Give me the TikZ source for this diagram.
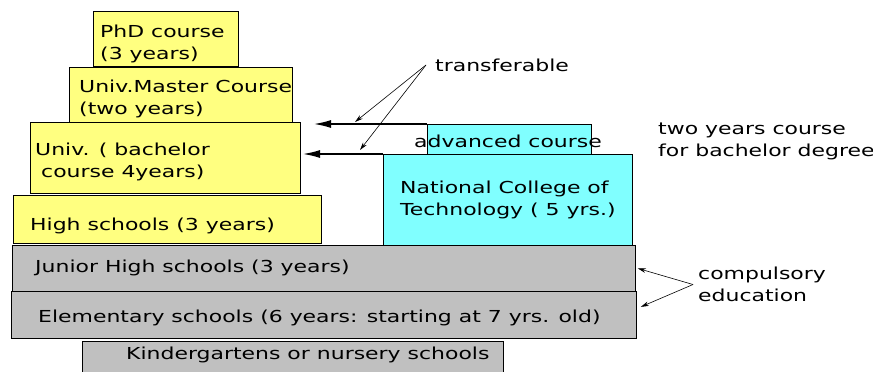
\documentclass[tikz,border=0pt]{standalone}
\usepackage{fontspec}
\setmainfont{DejaVu Sans}[FakeStretch=1.33]
\usetikzlibrary{arrows.meta}

% fill colours of the school levels
\definecolor{univyellow}{RGB}{255,255,128}
\definecolor{kosencyan}{RGB}{128,255,255}
\definecolor{basegray}{RGB}{192,192,192}

\tikzset{
  box/.style={draw, line width=0.8pt, anchor=north west, inner sep=0pt},
  txt/.style={anchor=west, inner sep=0pt, align=left,
    font=\fontsize{16.5}{22}\selectfont},
  bigarrow/.style={line width=2.2pt, -{Latex[length=18pt,width=8pt]}},
  thinarrow/.style={line width=0.6pt, -{Stealth[length=8pt,width=4.5pt]}},
}

\begin{document}
\begin{tikzpicture}[x=1pt, y=-1pt]
  \path[use as bounding box] (0,0) rectangle (873,372);
  \clip (0,0) rectangle (873,372);

  % university side
  \node[box, fill=univyellow, minimum width=145pt, minimum height=55pt] (phd) at (93,11) {};
  \node[box, fill=univyellow, minimum width=223pt, minimum height=55pt] (master) at (69,67) {};
  \node[box, fill=univyellow, minimum width=270pt, minimum height=71pt] (univ) at (30,122) {};
  \node[box, fill=univyellow, minimum width=308pt, minimum height=48pt] (high) at (13,195) {};

  % college of technology
  \node[box, fill=kosencyan, minimum width=164pt, minimum height=30pt] (adv) at (427,124) {};
  \node[box, fill=kosencyan, minimum width=249pt, minimum height=91pt] (nct) at (383,154) {};

  % compulsory and pre-school
  \node[box, fill=basegray, minimum width=623pt, minimum height=46pt] (junior) at (12,245) {};
  \node[box, fill=basegray, minimum width=625pt, minimum height=47pt] (elem) at (11,291) {};
  \node[box, fill=basegray, minimum width=421pt, minimum height=45pt] (kinder) at (82,341) {};

  % texts
  \node[txt] (phdtxt) at (100,44) {PhD course\\(3 years)};
  \node[txt] (mastertxt) at (79,99) {Univ.Master Course\\(two years)};
  \node[txt] (univtxt) at (35,162) {Univ. ( bachelor\\\hspace{6pt}course 4years)};
  \node[txt] (hightxt) at (30,226) {High schools (3 years)};
  \node[txt, anchor=center] (advtxt) at (508,141) {advanced course};
  \node[txt] (ncttxt) at (400,199.5) {National College of\\Technology ( 5 yrs.)};
  \node[txt] (juniortxt) at (35,268) {Junior High schools (3 years)};
  \node[txt] (elemtxt) at (38,318) {Elementary schools (6 years: starting at 7 yrs. old)};
  \node[txt] (kindertxt) at (126,355) {Kindergartens or nursery schools};
  \node[txt] (trans) at (435,65) {transferable};
  \node[txt] (twoyears) at (658,141.5) {two years course\\for bachelor degree};
  \node[txt] (comp) at (698,284.5) {compulsory\\education};

  % transfer routes into the university
  \coordinate (tipA) at (313,124);
  \coordinate (tipB) at (302,154);
  \draw[bigarrow] (adv.north west) -- (tipA);
  \draw[bigarrow] (nct.north west) -- (tipB);

  \coordinate (fork) at ([xshift=-9pt]trans.west);
  \coordinate (hitA) at (355,122);
  \coordinate (hitB) at (360,150);
  \draw[thinarrow] (fork) -- (hitA);
  \draw[thinarrow] (fork) -- (hitB);

  \coordinate (apex) at ([xshift=-5pt]comp.west);
  \draw[thinarrow] (apex) -- ([xshift=2pt]junior.east);
  \draw[thinarrow] (apex) -- ([shift={(4pt,8pt)}]elem.east);
\end{tikzpicture}
\end{document}
